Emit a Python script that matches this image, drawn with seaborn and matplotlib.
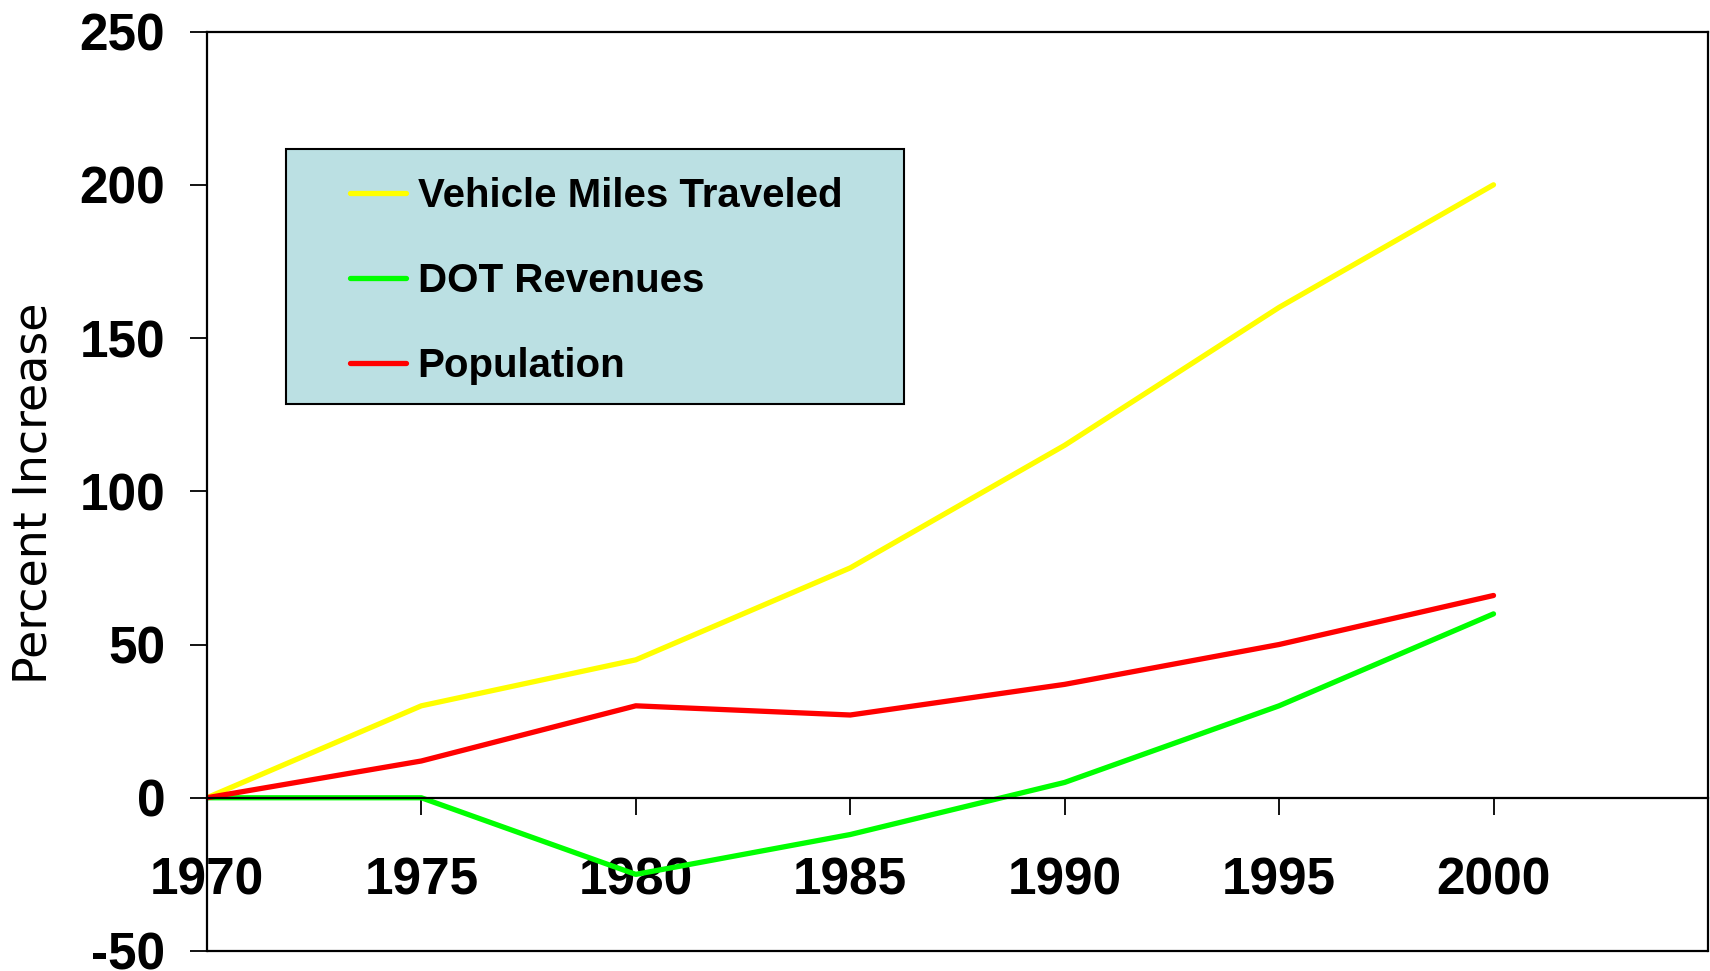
import pandas as pd
import matplotlib
matplotlib.use('Agg')
from matplotlib import pyplot as plt
from matplotlib.patches import Rectangle
import seaborn as sns

years = [1970, 1975, 1980, 1985, 1990, 1995, 2000]
vmt = [0, 30, 45, 75, 115, 160, 200]
dot_revenues = [0, 0, -25, -12, 5, 30, 60]
population = [0, 12, 30, 27, 37, 50, 66]

series_names = ['Vehicle Miles Traveled', 'DOT Revenues', 'Population']
series_colors = ['#FFFF00', '#00FF00', '#FF0000']
y_ticks = [-50, 0, 50, 100, 150, 200, 250]

df = pd.DataFrame({
    'year': years * 3,
    'value': vmt + dot_revenues + population,
    'series': [series_names[0]] * 7 + [series_names[1]] * 7 + [series_names[2]] * 7,
})

sns.set_style('white')
plt.rcParams['font.family'] = ['Liberation Sans', 'DejaVu Sans']
plt.rcParams['axes.unicode_minus'] = False
plt.rcParams['text.color'] = 'black'
plt.rcParams['axes.labelcolor'] = 'black'
plt.rcParams['xtick.color'] = 'black'
plt.rcParams['ytick.color'] = 'black'

fig = plt.figure(figsize=(17.1, 9.71), dpi=100)
ax = fig.add_axes([0.121, 0.0206, 0.8778, 0.9469])

sns.lineplot(data=df, x='year', y='value', hue='series', hue_order=series_names,
             palette=series_colors, linewidth=3.8, ax=ax, sort=False)
for ln in ax.get_lines():
    ln.set_solid_capstyle('round')
    ln.set_solid_joinstyle('round')

ax.set_xlim(1970, 2005)
ax.set_ylim(-50, 250)
ax.set_xticks(years)
ax.set_xticklabels([str(y) for y in years])
ax.set_yticks(y_ticks)
ax.set_xlabel('')

for s in ['top', 'right', 'left']:
    ax.spines[s].set_visible(True)
    ax.spines[s].set_color('black')
    ax.spines[s].set_linewidth(1.6)
ax.spines['bottom'].set_position(('data', 0))
ax.spines['bottom'].set_color('black')
ax.spines['bottom'].set_linewidth(1.6)
# bottom edge of the plot frame
ax.plot([0, 1], [0, 0], transform=ax.transAxes, color='black', lw=1.6, clip_on=False)

ax.tick_params(axis='x', direction='out', length=12, width=1.3, pad=30,
               labelsize=37, bottom=True, colors='black')
ax.tick_params(axis='y', direction='out', length=12, width=1.3, pad=18,
               labelsize=37, left=True, colors='black')
for lab in ax.get_xticklabels() + ax.get_yticklabels():
    lab.set_fontweight('bold')

ax.set_ylabel('Percent Increase', fontsize=33, family=['DejaVu Sans'], color='black')
ax.yaxis.set_label_coords(-0.1, 0.498)

# legend box
ax.add_patch(Rectangle((0.0526, 0.595), 0.4118, 0.2773, transform=ax.transAxes,
                       facecolor='#BBE0E3', edgecolor='black', lw=1.5, zorder=4))
handles, labels = ax.get_legend_handles_labels()
leg = ax.legend(handles, labels, loc='upper left', bbox_to_anchor=(0.0953, 0.842),
                frameon=False, borderpad=0, borderaxespad=0, handlelength=1.4,
                handletextpad=0.28, labelspacing=1.17,
                prop={'family': 'Liberation Sans', 'weight': 'bold', 'size': 29})
leg.set_zorder(5)
for t in leg.get_texts():
    t.set_color('black')
for h in leg.get_lines():
    h.set_linewidth(3.8)
    h.set_solid_capstyle('round')

fig.savefig('out.png', dpi=100)
